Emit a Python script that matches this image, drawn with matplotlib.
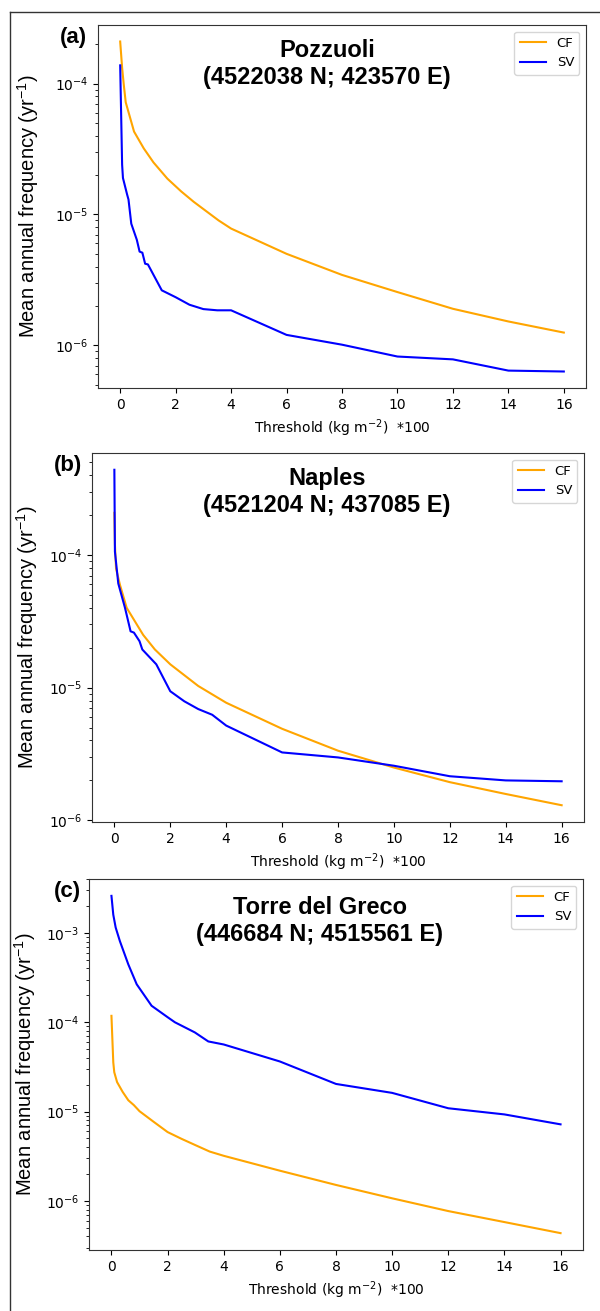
import matplotlib
matplotlib.use("Agg")
import matplotlib.pyplot as plt
from matplotlib.lines import Line2D

W, H = 600, 1311

# ---- panel (a) Pozzuoli
cf_a_x = [0, 0.07, 0.13, 0.2, 0.5, 0.85, 1.2, 1.7, 2.2, 2.65, 3, 3.55, 4, 6, 8, 10, 12, 14, 16]
cf_a_y = [2.1e-4, 1.32e-4, 9.8e-5, 7.2e-5, 4.3e-5, 3.2e-5, 2.5e-5, 1.88e-5, 1.5e-5, 1.25e-5,
          1.1e-5, 9.0e-6, 7.8e-6, 5.0e-6, 3.45e-6, 2.55e-6, 1.9e-6, 1.52e-6, 1.25e-6]
sv_a_x = [0, 0.07, 0.1, 0.25, 0.3, 0.4, 0.6, 0.7, 0.8, 0.9, 1, 1.5, 2, 2.5, 3, 3.5, 4,
          6, 8, 10, 12, 14, 16]
sv_a_y = [1.38e-4, 2.4e-5, 1.9e-5, 1.42e-5, 1.3e-5, 8.5e-6, 6.4e-6, 5.2e-6, 5.1e-6, 4.2e-6,
          4.15e-6, 2.63e-6, 2.33e-6, 2.04e-6, 1.89e-6, 1.85e-6, 1.85e-6,
          1.2e-6, 1.01e-6, 8.2e-7, 7.8e-7, 6.4e-7, 6.3e-7]

# ---- panel (b) Naples
cf_b_x = [0, 0.02, 0.06, 0.2, 0.44, 1.03, 1.45, 2, 3, 4, 6, 8, 10, 12, 14, 16]
cf_b_y = [2.08e-4, 1.2e-4, 7.9e-5, 5.96e-5, 4.0e-5, 2.5e-5, 1.94e-5, 1.5e-5, 1.03e-5, 7.7e-6,
          4.9e-6, 3.35e-6, 2.5e-6, 1.94e-6, 1.58e-6, 1.3e-6]
sv_b_x = [0, 0.02, 0.14, 0.38, 0.58, 0.7, 0.9, 1, 1.5, 2, 2.5, 3, 3.5, 4, 6, 8, 10,
          12, 14, 16]
sv_b_y = [4.39e-4, 1.06e-4, 6.1e-5, 4.0e-5, 2.66e-5, 2.6e-5, 2.24e-5, 1.94e-5,
          1.5e-5, 9.4e-6, 7.9e-6, 6.9e-6, 6.25e-6, 5.18e-6, 3.25e-6, 2.98e-6, 2.58e-6,
          2.15e-6, 2.0e-6, 1.97e-6]

# ---- panel (c) Torre del Greco
cf_c_x = [0, 0.065, 0.1, 0.2, 0.4, 0.6, 0.8, 1, 1.5, 2, 2.5, 3, 3.5, 4, 6, 8, 10, 12, 14, 16]
cf_c_y = [1.18e-4, 3.56e-5, 2.76e-5, 2.14e-5, 1.66e-5, 1.34e-5, 1.18e-5, 1.01e-5, 7.7e-6,
          5.9e-6, 4.95e-6, 4.2e-6, 3.57e-6, 3.2e-6, 2.18e-6, 1.51e-6, 1.07e-6, 7.7e-7,
          5.8e-7, 4.36e-7]
sv_c_x = [0, 0.065, 0.15, 0.3, 0.6, 0.9, 1.43, 2, 2.26, 2.97, 3.45, 4, 6, 8, 10, 12, 14, 16]
sv_c_y = [2.6e-3, 1.6e-3, 1.15e-3, 8.1e-4, 4.45e-4, 2.66e-4, 1.53e-4, 1.14e-4, 1.0e-4,
          7.7e-5, 6.1e-5, 5.64e-5, 3.64e-5, 2.04e-5, 1.62e-5, 1.09e-5, 9.3e-6, 7.2e-6]

panels = [
    ("(a)", "Pozzuoli\n(4522038 N; 423570 E)", cf_a_x, cf_a_y, sv_a_x, sv_a_y),
    ("(b)", "Naples\n(4521204 N; 437085 E)", cf_b_x, cf_b_y, sv_b_x, sv_b_y),
    ("(c)", "Torre del Greco\n(446684 N; 4515561 E)", cf_c_x, cf_c_y, sv_c_x, sv_c_y),
]

# axes boxes in pixels: left, top, right, bottom
boxes = [(98, 25, 586, 388), (92, 453, 584, 822), (89, 879, 583, 1250)]
label_pos = [(73, 37), (68, 465), (67, 891)]
title_pos = [(327, 64), (327, 492), (320, 921)]
ylab_x = [41, 40, 38]

sans = ["Liberation Sans", "DejaVu Sans"]

fig = plt.figure(figsize=(W / 100, H / 100), dpi=100)

for i, (lab, title, cx, cy, sx, sy) in enumerate(panels):
    l, t, r, b = boxes[i]
    ax = fig.add_axes([l / W, (H - b) / H, (r - l) / W, (b - t) / H])
    ax.plot(cx, cy, color="orange", lw=1.5, label="CF")
    ax.plot(sx, sy, color="blue", lw=1.5, label="SV")
    ax.set_yscale("log")
    ax.set_xticks(range(0, 17, 2))
    ax.tick_params(labelsize=10)
    ax.set_xlabel("Threshold (kg m$^{-2}$)  *100", fontsize=10)
    ax.set_ylabel(r"Mean annual frequency (yr$^{\mathdefault{-1}}$)", fontsize=14.5,
                  family=sans)
    ax.yaxis.set_label_coords((ylab_x[i] - l) / (r - l), 0.5)
    ax.legend(loc="upper right", fontsize=9.5)
    for sp in ax.spines.values():
        sp.set_color("#333333")

    fig.text(label_pos[i][0] / W, 1 - label_pos[i][1] / H, lab, fontsize=16,
             fontweight="bold", family=sans, ha="center", va="center")
    fig.text(title_pos[i][0] / W, 1 - title_pos[i][1] / H, title, fontsize=17,
             fontweight="bold", family=sans, ha="center", va="center",
             linespacing=1.2)

# outer frame (left and top edges)
fig.add_artist(Line2D([10 / W, 10 / W], [0, 1 - 12 / H], color="#333333", lw=1))
fig.add_artist(Line2D([10 / W, 1], [1 - 12 / H, 1 - 12 / H], color="#333333", lw=1))

fig.savefig("out.png", dpi=100)
